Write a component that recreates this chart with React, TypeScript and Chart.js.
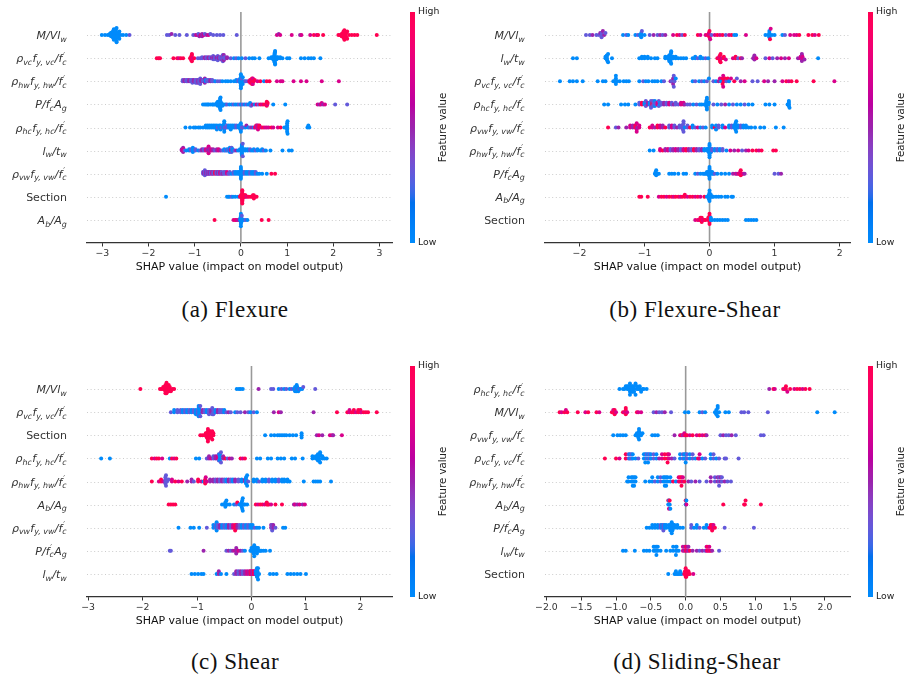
import { useEffect, useRef } from "react";
import { Chart, registerables } from "chart.js";

Chart.register(...registerables);

const FONT = '"DejaVu Sans", sans-serif';
Chart.defaults.font.family = FONT;

// Tokens: <shap value><feature level code>[count]
// feature level codes: b = low, v, p, m, r = high
const LEVELS: Record<string, number> = { b: 0, v: 0.3, p: 0.5, m: 0.72, r: 1 };

// ---------- (a) Flexure ----------
const flexureFeatures = [
  "$M/Vl_w$",
  "$ρ_{vc}f_{y, vc}/f^′_c$",
  "$ρ_{hw}f_{y, hw}/f^′_c$",
  "$P/f^′_cA_g$",
  "$ρ_{hc}f_{y, hc}/f^′_c$",
  "$l_w/t_w$",
  "$ρ_{vw}f_{y, vw}/f^′_c$",
  "Section",
  "$A_b/A_g$",
];
const flexureShap = [
  "-3.01b -2.94b -2.88b -2.84b2 -2.81b2 -2.79b3 -2.77b3 -2.75b4 -2.73b5 -2.71b5 -2.69b3 -2.67b3 -2.65b2 -2.63b2 -2.6b -2.55b -2.48b -2.41v -1.6v -1.55v -1.5p -1.42v -1.33v -1.17v -1.03v -0.98p -0.95m -0.92v -0.9p -0.87m -0.84p2 -0.8m -0.78v -0.74p -0.7m -0.66v -0.6v -0.52v -0.45v -0.38v -0.09v 0.78m 0.82p 0.85m 1.1m 1.28p 1.31m 1.5m 1.58r 1.64m 1.67r 1.78r 2.11r 2.15r 2.18r2 2.2r3 2.22r3 2.24r3 2.26r3 2.28r2 2.3r2 2.34r 2.4r 2.46r 2.52r 2.94r",
  "-1.82r -1.78r -1.75r -1.46r -1.38r -1.34m -1.3r -1.25r -1.1r -1.08r2 -1.07r3 -1.06r3 -1.04m -1.01r -0.93v -0.88v -0.84v2 -0.78p2 -0.74v2 -0.7p2 -0.66v2 -0.62p2 -0.6v2 -0.58p2 -0.56v3 -0.52p2 -0.5v3 -0.48p2 -0.45v2 -0.42v3 -0.4p2 -0.39v2 -0.38v4 -0.37p2 -0.35v2 -0.3p2 -0.22v -0.15b -0.1v -0.05b 0.02b 0.1v 0.18b 0.25b 0.3b 0.4b 0.6b 0.66b2 0.7b3 0.72b5 0.73b5 0.74b4 0.77b3 0.8b2 0.85b2 0.9b 1.0b 1.05b 1.3b 1.38b 1.46b 1.52b 1.58b 1.72b",
  "-1.26v2 -1.22p2 -1.18v2 -1.15v2 -1.12p2 -1.08v2 -1.05v3 -1.02p2 -0.98v3 -0.95v3 -0.92p3 -0.9v3 -0.88v2 -0.86p2 -0.82v2 -0.8v2 -0.78p2 -0.76b2 -0.73v2 -0.7v2 -0.66p2 -0.62v2 -0.58v -0.55b -0.5v -0.45v -0.4b -0.33b -0.28b -0.22b -0.15b -0.1b2 -0.05v2 -0.02b -0.01b3 0b7 0.01b3 0.02v 0.04b2 0.07b 0.1v 0.14v 0.18m 0.2r2 0.22m2 0.24r3 0.25r3 0.26m2 0.28r 0.3r 0.36m 0.42r 0.5b 0.56r 0.62r 0.78m 0.86m 0.9m 1.14m 1.3m 1.42m 1.75m 2.12m",
  "-0.82b -0.78b -0.75b -0.72b -0.7b -0.66b -0.62b -0.6b -0.57b -0.54b -0.52b2 -0.5b2 -0.48b2 -0.46b4 -0.45b4 -0.44b2 -0.42b2 -0.4b -0.37b -0.33b -0.3v -0.25b -0.2b -0.16v -0.12b -0.08b -0.04v 0b 0.04v 0.08b 0.12v 0.16b 0.2b2 0.22v 0.26p 0.3b 0.34m 0.38v 0.42r 0.46m 0.5r 0.54r 0.56r3 0.57m 0.58r 0.7b 0.96b 1.66m 1.7p 1.73m 1.75m 1.78p 1.82m 2.04v 2.3v",
  "-1.2b -1.1b -1.02b -0.98b -0.92b -0.88b -0.82b -0.76b2 -0.72b2 -0.68b2 -0.64b2 -0.6b2 -0.56b2 -0.52b3 -0.5v -0.47b2 -0.44b3 -0.42v -0.38b2 -0.36b4 -0.35v -0.3v2 -0.26b2 -0.22b3 -0.18b2 -0.14b2 -0.1v2 -0.05b2 -0.01b3 0b5 0.02v 0.06v 0.1b 0.12p 0.16b 0.2v 0.24p 0.28b 0.3m 0.33r2 0.35p2 0.37m3 0.4r2 0.44m 0.48r 0.52m 0.56m 0.6m 0.66r 0.7m 0.8m 0.86r 0.94b 0.98b 1.0b5 1.01b2 1.44b 1.46b 1.48b",
  "-1.28p2 -1.26m2 -1.25p2 -1.24m2 -1.22v -1.18b -1.12b2 -1.08v2 -1.04b4 -1.02b2 -0.98v2 -0.92b -0.88v -0.84p2 -0.8v2 -0.76m2 -0.72p2 -0.7m4 -0.68p2 -0.64m2 -0.6p2 -0.56v -0.52p2 -0.48m2 -0.44p -0.4v -0.36b2 -0.33v -0.3b2 -0.27v2 -0.24b4 -0.22p2 -0.2v2 -0.18b2 -0.14v -0.1p -0.06b -0.02b2 0.02b8 0.04v2 0.06b2 0.1b2 0.15b2 0.2v2 0.24b 0.28b2 0.32v 0.36b2 0.42b 0.46b2 0.5v 0.54b 0.64b 0.9b 1.04b 1.1b",
  "-0.82v2 -0.8p2 -0.78v4 -0.76p2 -0.74v2 -0.72p2 -0.7v2 -0.68p2 -0.65v2 -0.62m2 -0.6v2 -0.56r2 -0.53v2 -0.5p2 -0.48v2 -0.45m2 -0.42v2 -0.4p -0.37v2 -0.34v2 -0.3m2 -0.27v -0.24v2 -0.2b -0.16v2 -0.12b2 -0.08b2 -0.04b2 -0.02b2 -0.01b2 0b8 0.02b2 0.04b2 0.08v2 0.12b2 0.16b2 0.2v2 0.24b2 0.28b2 0.32v2 0.36b 0.4b 0.46b 0.56b 0.66r 0.74r",
  "-1.62b -0.3b -0.27b -0.24b -0.2v -0.17b -0.12b -0.06b -0.02r 0r2 0.02r3 0.03r6 0.04r3 0.06r2 0.08r2 0.1r2 0.13m 0.16r 0.2r 0.24r 0.26r2 0.28r3 0.3r 0.34r",
  "-0.57r -0.16m -0.12r -0.1m -0.06p -0.04m -0.02b -0.01b2 0b7 0.01b3 0.02v 0.04b 0.06b 0.1v 0.14b 0.45r 0.6r",
];
const flexureTicks = [-3, -2, -1, 0, 1, 2, 3];

// ---------- (b) Flexure-Shear ----------
const flexShearFeatures = [
  "$M/Vl_w$",
  "$l_w/t_w$",
  "$ρ_{vc}f_{y, vc}/f^′_c$",
  "$ρ_{hc}f_{y, hc}/f^′_c$",
  "$ρ_{vw}f_{y, vw}/f^′_c$",
  "$ρ_{hw}f_{y, hw}/f^′_c$",
  "$P/f^′_cA_g$",
  "$A_b/A_g$",
  "Section",
];
const flexShearShap = [
  "-1.9v -1.84v -1.8p -1.74v -1.7v -1.68p -1.66v3 -1.64p -1.62p -1.6v -1.33b -1.28v -1.25b -1.14b -1.1v -1.07b -1.05b3 -1.04v -1.0b -0.92v -0.86p -0.8v -0.76p -0.72v -0.68p -0.56m -0.5r -0.46m -0.42v -0.38r -0.18r -0.14m -0.06m -0.03r -0.01m2 0r2 0.01m 0.03v 0.08m 0.12r 0.16m 0.2r 0.25v 0.3m 0.34r 0.38b 0.41b 0.56m 0.86b 0.9b 0.92b4 0.93r 0.94m 0.96b 1.0b 1.12b 1.16v 1.24m 1.3m 1.34m 1.38r 1.52r 1.58r 1.62m 1.68r",
  "-2.1b -2.04b -1.6b2 -1.58b4 -1.57b -1.56b2 -1.5b -1.08b -1.04b2 -1.0b2 -0.95b2 -0.9b -0.84b -0.8b -0.68b2 -0.64b2 -0.62b3 -0.6b7 -0.59b3 -0.56b2 -0.52b2 -0.48b -0.44b -0.4b -0.36b -0.26b -0.22b2 -0.18v -0.14b2 -0.1b -0.06v -0.02b 0.12r 0.15m2 0.16r3 0.17r2 0.19m 0.22r2 0.25m 0.36m 0.4r2 0.44v 0.48r 0.5p 0.67p 0.69p4 0.72m 0.86v 0.92m 0.97v 1.04p 1.1m 1.16p 1.22m 1.36p 1.4m2 1.42p4 1.43m2 1.46p 1.67b",
  "-2.3b -2.15b -2.1b -2.04b -1.95b -1.72b -1.64b -1.6b -1.48b -1.46b -1.44b3 -1.42b -1.38b -1.32b -1.28b -1.24b -1.08b -1.02v -0.98b -0.94b -0.88b -0.84b -0.8b -0.74b -0.7v -0.6p -0.58v -0.56p2 -0.55v2 -0.54v -0.52b -0.26b -0.22v -0.16b -0.12v -0.08b -0.04v -0.01b 0.06v 0.1b 0.14p 0.16m 0.18b 0.2r2 0.21m2 0.22r 0.24r 0.26v 0.28r 0.3b 0.33m 0.38r 0.42v 0.48p 0.54m 0.66v 0.74v 0.84m 0.9p 1.0p 1.12m 1.18r 1.22m 1.26r 1.34r 1.6r 1.92m",
  "-1.62b -1.56b -1.36b -1.3b -1.25b -1.14b -1.08v2 -1.04r2 -1.0b2 -0.98v2 -0.95p2 -0.92b2 -0.9v3 -0.88r2 -0.87v2 -0.86v2 -0.84b2 -0.82v2 -0.8m2 -0.78v2 -0.76b2 -0.74v2 -0.7p2 -0.66v2 -0.62m2 -0.58v2 -0.55p -0.52v2 -0.48v -0.44m2 -0.4m2 -0.38p -0.34v -0.3v -0.25b -0.2v -0.15b -0.12b -0.08b -0.06b -0.05b3 -0.04b4 -0.02b -0.01b 0.06v 0.12b 0.18v 0.24p 0.3b 0.36v 0.42b 0.48b 0.54v 0.6b 0.66b 0.86b 0.92b 1.0b 1.2b 1.22b4 1.23b",
  "-1.56r -1.44v -1.4p -1.28p -1.22m2 -1.18p2 -1.14r2 -1.12m3 -1.11p -1.08m2 -0.92r -0.88m2 -0.84p -0.8r2 -0.76m2 -0.72p2 -0.68r -0.62v2 -0.58m2 -0.54v2 -0.5p -0.46v2 -0.42v2 -0.41v3 -0.4v3 -0.38b -0.34v2 -0.3r -0.26b2 -0.22v -0.18m -0.14b -0.1v -0.06b 0.04b2 0.08r 0.1b2 0.14v2 0.2b2 0.24m 0.3b2 0.34v2 0.38b2 0.4b4 0.41b2 0.44b2 0.48v2 0.52b2 0.56b2 0.6b 0.64b 0.7b 0.78b 0.84b 1.02b 1.14b",
  "-0.92b -0.86b -0.76m2 -0.72r -0.68p2 -0.64m2 -0.6v2 -0.56p2 -0.52m2 -0.48p2 -0.44v2 -0.4m2 -0.36r2 -0.32p2 -0.28v2 -0.24r2 -0.2p2 -0.16v2 -0.12p2 -0.08b2 -0.04b2 -0.02b2 -0.01b3 0b6 0.01b 0.02b2 0.04v2 0.08b2 0.12v2 0.16b2 0.2v2 0.26b 0.32m 0.38p 0.44m 0.5v 0.56p 0.6m 0.66r 0.72r 0.76m 0.8r 0.98r 1.02r",
  "-0.84b -0.83b2 -0.82b2 -0.8b -0.78b -0.62b -0.58b -0.54b -0.48b -0.4b -0.36b -0.22b -0.18v -0.14b -0.1b -0.08b -0.06b -0.04b2 -0.02b2 -0.01b3 0b5 0.02b2 0.04b2 0.06b 0.08v 0.12b 0.18b 0.24b 0.3b 0.36p 0.4m 0.42p 0.44m 0.46r 0.47m2 0.48r2 0.5r 0.52m 0.54p 1.0v 1.06v 1.1p",
  "-1.08r -1.05r -0.95r -0.78m -0.74r -0.7r -0.66m -0.62r -0.58r -0.55m -0.52r -0.48r -0.45m -0.42r -0.38r2 -0.34m -0.3r -0.26r -0.22m -0.18r -0.14m -0.08r -0.04b -0.02b -0.01b2 0b6 0.02b2 0.04b 0.06b 0.1b 0.14b 0.18b 0.24b 0.28b 0.34b 0.36b",
  "-0.22m -0.18r -0.16m -0.14r2 -0.12r3 -0.1m -0.08r -0.06r -0.02r2 0r6 0.01r2 0.02b2 0.04b 0.08b 0.12b 0.16b 0.2b 0.24b 0.28b 0.56b 0.6b 0.64b 0.68b 0.72b",
];
const flexShearTicks = [-2, -1, 0, 1, 2];

// ---------- (c) Shear ----------
const shearFeatures = [
  "$M/Vl_w$",
  "$ρ_{vc}f_{y, vc}/f^′_c$",
  "Section",
  "$ρ_{hc}f_{y, hc}/f^′_c$",
  "$ρ_{hw}f_{y, hw}/f^′_c$",
  "$A_b/A_g$",
  "$ρ_{vw}f_{y, vw}/f^′_c$",
  "$P/f^′_cA_g$",
  "$l_w/t_w$",
];
const shearShap = [
  "-2.04r -1.68r -1.65r -1.62r2 -1.6r2 -1.58r3 -1.57r3 -1.56r3 -1.54r2 -1.52r2 -1.5r2 -1.48r -1.45r -1.42r -0.27b -0.23b -0.2b -0.16b 0.13p 0.36v 0.4v 0.5b 0.55v 0.6b 0.64v 0.7b 0.74v 0.78b 0.8b2 0.82v 0.83b3 0.84b2 0.86b 0.88v 0.9b 0.93b 0.95v 1.17v",
  "-1.48v -1.42b2 -1.36v2 -1.3v2 -1.26b2 -1.22v2 -1.18b2 -1.14v2 -1.1b2 -1.06v2 -1.02b3 -0.98v3 -0.97b3 -0.96b4 -0.94v2 -0.9p2 -0.86v2 -0.82b2 -0.78v3 -0.74p2 -0.72v2 -0.7v3 -0.66b2 -0.62p2 -0.58v2 -0.54v2 -0.5b2 -0.46v -0.42p -0.38v -0.3b -0.26v -0.2v -0.12p -0.06v -0.02b 0.04v 0.1b 0.41p 0.5m 0.54p 1.14p 1.57r 1.76r 1.8m2 1.84r 1.88r2 1.92m 1.96r2 2.0r2 2.02m 2.06r 2.1r 2.14r 2.3r",
  "-0.94r -0.9r -0.86r -0.84r2 -0.82r3 -0.8r4 -0.78r4 -0.76r4 -0.74r3 -0.72r2 -0.7r2 0.25b 0.36b 0.42b 0.48b 0.52b 0.56b 0.6b 0.64b 0.7b 0.76b 0.82b 0.92b3 1.2p 1.24m 1.3p 1.44m 1.48m 1.5p 1.66m",
  "-2.76b -2.6b -1.83r -1.78m -1.74r -1.7r -1.64m -1.5b -1.46r -1.42m -1.38r -1.02b -0.96b -0.82v -0.78p2 -0.74m -0.7v2 -0.66p2 -0.62m2 -0.6v2 -0.58b4 -0.56v2 -0.52p2 -0.48r -0.44v -0.4m -0.36p -0.2r -0.16m -0.12r 0.1b 0.16b 0.3b 0.36b 0.48b 0.54b 0.6b 0.74b 0.8b 0.94b 1.12b2 1.18b2 1.22b4 1.24b3 1.26b3 1.3b2 1.34b 1.38b",
  "-1.83r -1.7m -1.66r2 -1.62m -1.58v4 -1.57v2 -1.55v -1.52v -1.46m2 -1.4r -1.34m -1.28r -1.18p -1.1p2 -1.06v -0.98r2 -0.92m -0.88b -0.85r3 -0.84m -0.82m -0.76p2 -0.7p2 -0.66v2 -0.62p2 -0.58v2 -0.54p2 -0.5v2 -0.46b2 -0.42p2 -0.38v2 -0.34b2 -0.3p2 -0.24v2 -0.18b2 -0.12p2 -0.1b4 -0.08b2 -0.06v 0.04b2 0.1b2 0.14v 0.2b2 0.26b2 0.32v2 0.38b2 0.44b2 0.5v2 0.56b2 0.6b2 0.66b2 0.7b 0.96b 1.14b 1.18b 1.22b 1.26b 1.46b",
  "-1.52r -1.48r -1.44r -1.4r -0.54b -0.5b -0.48b3 -0.46b -0.44b -0.4b -0.32b -0.28v -0.26r -0.22b -0.2b -0.18b3 -0.17b2 -0.16b2 -0.14b -0.12b -0.08b 0.08r 0.12m 0.16r 0.2r 0.24m 0.28r2 0.3r 0.32r 0.36m 0.44r 0.56r 0.78p 0.8m 0.84p 0.88m 0.94p 0.98m",
  "-1.34b -1.12b -1.06b -0.96b -0.82v -0.7b2 -0.66v2 -0.64b4 -0.62v2 -0.58p2 -0.54b2 -0.5v2 -0.46b2 -0.42p2 -0.38v2 -0.34m2 -0.3r3 -0.28r2 -0.26p2 -0.22v2 -0.18b2 -0.14v2 -0.1b2 -0.06v2 -0.02b2 0.02b2 0.06v 0.1b 0.14b 0.22b 0.36p2 0.38v3 0.4p2 0.44v 0.58b 0.62b",
  "-1.5v -1.48v -0.88p -0.46v -0.42p -0.38v -0.34p -0.3m -0.28p3 -0.26p -0.24m -0.2p -0.16v -0.12b -0.02b 0b2 0.02b2 0.04b3 0.05b2 0.06b 0.08b2 0.1b3 0.12b2 0.14b 0.16b 0.18b 0.22b 0.26b 0.34b",
  "-1.1b -1.04b -0.98b -0.92b -0.88b -0.64b -0.6p2 -0.56b -0.46b -0.32v -0.28p2 -0.24v2 -0.2p2 -0.16v2 -0.12p2 -0.08m2 -0.04p2 -0.02r2 0m2 0.02p2 0.04r2 0.06m2 0.08b2 0.1b4 0.11b3 0.12b2 0.14b 0.34b 0.4b 0.46b 0.66b 0.72b 0.78b 0.84b 0.9b 1.0b",
];
const shearTicks = [-3, -2, -1, 0, 1, 2];

// ---------- (d) Sliding-Shear ----------
const slidingFeatures = [
  "$ρ_{hc}f_{y, hc}/f^′_c$",
  "$M/Vl_w$",
  "$ρ_{vw}f_{y, vw}/f^′_c$",
  "$ρ_{vc}f_{y, vc}/f^′_c$",
  "$ρ_{hw}f_{y, hw}/f^′_c$",
  "$A_b/A_g$",
  "$P/f^′_cA_g$",
  "$l_w/t_w$",
  "Section",
];
const slidingShap = [
  "-0.95b -0.9b -0.88b -0.86b -0.84b2 -0.82b2 -0.8b3 -0.78b3 -0.76b3 -0.74b3 -0.72b2 -0.7b2 -0.68b -0.66b2 -0.64b -0.62b -0.6b -0.56b 1.2p 1.26r 1.28m 1.4r 1.42m 1.44r2 1.46m 1.5r 1.56m 1.6r 1.64r 1.68m 1.72r 1.78r",
  "-1.81r -1.78m -1.74r -1.72m -1.7r -1.55r -1.44m -1.4r -1.28r -1.24m -1.06r -1.04m -1.02r3 -1.0m -0.9r -0.88m -0.86r3 -0.84m -0.7r -0.68m -0.64m -0.46v -0.42p -0.38v -0.34v -0.3p -0.21v -0.01b 0.04b 0.2b 0.24v 0.28b 0.42b 0.44b3 0.46b3 0.48b 0.57b 0.62b 0.8v 0.84v 0.9v 1.18v 1.89b 2.14b",
  "-1.04b -0.98b -0.94b -0.9b -0.86b -0.72b -0.7b2 -0.68b3 -0.67b3 -0.66b2 -0.64b -0.62b -0.48b -0.44b -0.4b -0.16p -0.08m -0.06r -0.04p -0.02m2 0r 0.02r 0.06m 0.1r 0.16m 0.2r 0.24m 0.28r 0.3p 0.5v 0.54p 0.58v 0.62v 0.66p 0.72v 1.08v 1.12v",
  "-1.16r -1.0r -0.95m -0.86r2 -0.82v2 -0.8b2 -0.78v2 -0.76b2 -0.72b -0.68v -0.6b2 -0.58b3 -0.56v2 -0.54b3 -0.52v2 -0.5b2 -0.46v2 -0.42b2 -0.38p -0.34m2 -0.3r2 -0.26r3 -0.24m2 -0.2p -0.16v -0.08b2 -0.04v2 -0.02b2 0b3 0.02v2 0.06b2 0.1v2 0.14b 0.18r 0.2m2 0.24b 0.28v 0.36b2 0.4v2 0.44b 0.48v 0.56v 0.58v 0.76v",
  "-0.84b -0.82b2 -0.78b2 -0.76b3 -0.74b3 -0.72b2 -0.58b -0.52b -0.48b2 -0.44v -0.4b2 -0.36v2 -0.32b2 -0.3b3 -0.28b3 -0.26b2 -0.22b2 -0.18r -0.14b -0.1m2 -0.08r2 -0.06r3 -0.04m2 -0.02r 0.04p 0.08v 0.14p 0.2v 0.3v 0.36p2 0.42v2 0.46p2 0.48v3 0.5p2 0.52v2 0.56p 0.6v 0.65v",
  "-0.25b -0.25r -0.24b2 -0.24m -0.23b -0.23r -0.22b 0b 0r 0.01m 0.01b 0.54r 0.84r 0.85r 0.86r 1.08r",
  "-0.56b -0.52b -0.48b2 -0.44b2 -0.4b2 -0.36v2 -0.34b2 -0.32v3 -0.3b2 -0.28b2 -0.24b2 -0.22b3 -0.2b5 -0.19b3 -0.18b2 -0.16b2 -0.12b2 -0.08b -0.04b 0.08v2 0.12b 0.16b2 0.2v 0.26b 0.3b2 0.34m 0.36r2 0.38r3 0.4m2 0.42r 0.56v 0.98v",
  "-0.9b -0.86b -0.73b -0.6b -0.56b -0.52b -0.46b2 -0.44b2 -0.42b3 -0.4b2 -0.36b -0.28b -0.22b -0.18b2 -0.14b3 -0.13b2 -0.1b -0.04m2 -0.02p2 0r2 0.02m2 0.04p2 0.06r 0.1p 0.16p 0.2v 0.24p 0.28v 0.3m2 0.32r2 0.34m2 0.36r 0.38p 0.48v",
  "-0.25b -0.16b -0.14b2 -0.12b -0.1b -0.08b2 -0.06b -0.02r -0.01r2 0r4 0.01r3 0.02r2 0.04r2 0.06r 0.11m",
];
const slidingTicks = [-2, -1.5, -1, -0.5, 0, 0.5, 1, 1.5, 2];

const X_TITLE = "SHAP value (impact on model output)";
const CBAR_LABEL = "Feature value";
const CBAR_HIGH = "High";
const CBAR_LOW = "Low";

// ---------- layout ----------
const PANEL_W = 453;
const PANEL_H = 282;
const PLOT_TOP = 12;
const PLOT_BOTTOM = 243;
const AXIS_H = 31;
const ROW_HEIGHT = 0.4;
const NBINS = 100;
const LABEL_SIZE = 11;

type PanelSpec = {
  id: string;
  features: string[];
  shap: string[];
  ticks: number[];
  decimals: number;
  range: [number, number];
  left: number;
  top: number;
  plotLeft: number;
  plotRight: number;
  caption: string;
  captionX: number;
  captionY: number;
};

const panels: PanelSpec[] = [
  { id: "a", features: flexureFeatures, shap: flexureShap, ticks: flexureTicks, decimals: 0, range: [-3.33, 3.27], left: 0, top: 0, plotLeft: 87, plotRight: 392, caption: "(a) Flexure", captionX: 235, captionY: 310 },
  { id: "b", features: flexShearFeatures, shap: flexShearShap, ticks: flexShearTicks, decimals: 0, range: [-2.53, 2.16], left: 453, top: 0, plotLeft: 92, plotRight: 397, caption: "(b) Flexure-Shear", captionX: 695, captionY: 310 },
  { id: "c", features: shearFeatures, shap: shearShap, ticks: shearTicks, decimals: 0, range: [-3.02, 2.58], left: 0, top: 354, plotLeft: 87, plotRight: 392, caption: "(c) Shear", captionX: 235, captionY: 662 },
  { id: "d", features: slidingFeatures, shap: slidingShap, ticks: slidingTicks, decimals: 1, range: [-2.02, 2.36], left: 453, top: 354, plotLeft: 92, plotRight: 397, caption: "(d) Sliding-Shear", captionX: 697, captionY: 662 },
];

// ---------- colour map (blue -> red through LCh) ----------
function labToRgb(L: number, a: number, b: number): [number, number, number] {
  const fy = (L + 16) / 116;
  const fx = fy + a / 500;
  const fz = fy - b / 200;
  const inv = (t: number) => (t > 0.2068966 ? t * t * t : (t - 16 / 116) / 7.787);
  const X = 0.95047 * inv(fx);
  const Y = inv(fy);
  const Z = 1.08883 * inv(fz);
  const r = 3.2404542 * X - 1.5371385 * Y - 0.4985314 * Z;
  const g = -0.969266 * X + 1.8760108 * Y + 0.041556 * Z;
  const bl = 0.0556434 * X - 0.2040259 * Y + 1.0572252 * Z;
  const gam = (v: number) => (v > 0.0031308 ? 1.055 * Math.pow(v, 1 / 2.4) - 0.055 : 12.92 * v);
  return [r, g, bl].map((v) => Math.round(255 * Math.min(1, Math.max(0, gam(v))))) as [number, number, number];
}

function featureColor(t: number): string {
  const idx = t * 99;
  const L = idx <= 49 ? 54 - (14 * idx) / 49 : idx >= 50 ? 40 + (14 * (idx - 50)) / 49 : 40;
  const C = 70 + 20 * t;
  const h = 4.6588 + (0.35470565 + 2 * Math.PI - 4.6588) * t;
  const [r, g, b] = labToRgb(L, C * Math.cos(h), C * Math.sin(h));
  return `rgb(${r},${g},${b})`;
}

// ---------- data helpers ----------
function parseRow(row: string) {
  const pts: { x: number; f: number }[] = [];
  for (const tok of row.trim().split(/\s+/)) {
    const m = tok.match(/^(-?\d*\.?\d+)([bvpmr])(\d*)$/);
    if (!m) continue;
    const n = m[3] ? parseInt(m[3], 10) : 1;
    for (let k = 0; k < n; k++) pts.push({ x: parseFloat(m[1]), f: LEVELS[m[2]] });
  }
  return pts;
}

// beeswarm layering: points in the same x-bin are stacked alternately above/below the row
function swarmOffsets(xs: number[]) {
  const lo = Math.min(...xs);
  const hi = Math.max(...xs);
  const q = xs.map((v) => Math.round((NBINS * (v - lo)) / (hi - lo + 1e-8)));
  const order = xs.map((_, i) => i).sort((a, b) => q[a] - q[b] || a - b);
  const ys = new Array(xs.length).fill(0);
  let layer = 0;
  let last = -1;
  for (const i of order) {
    if (q[i] !== last) layer = 0;
    ys[i] = Math.ceil(layer / 2) * ((layer % 2) * 2 - 1);
    layer++;
    last = q[i];
  }
  const top = Math.max(...ys) + 1;
  return ys.map((v) => (v * 0.9 * ROW_HEIGHT) / top);
}

// ---------- math-style feature labels ----------
type Seg = { text: string; kind: "base" | "sub" | "sup" };

function parseLabel(s: string): { math: boolean; segs: Seg[] } {
  if (!s.startsWith("$")) return { math: false, segs: [{ text: s, kind: "base" }] };
  const body = s.slice(1, -1);
  const segs: Seg[] = [];
  let buf = "";
  for (let i = 0; i < body.length; i++) {
    const ch = body[i];
    if (ch === "_" || ch === "^") {
      if (buf) {
        segs.push({ text: buf, kind: "base" });
        buf = "";
      }
      let grp = "";
      if (body[i + 1] === "{") {
        const j = body.indexOf("}", i + 2);
        grp = body.slice(i + 2, j);
        i = j;
      } else {
        grp = body[i + 1];
        i++;
      }
      segs.push({ text: grp, kind: ch === "_" ? "sub" : "sup" });
    } else buf += ch;
  }
  if (buf) segs.push({ text: buf, kind: "base" });
  return { math: true, segs };
}

function drawLabel(ctx: CanvasRenderingContext2D, label: string, right: number, cy: number) {
  const { math, segs } = parseLabel(label);
  const style = math ? "italic " : "";
  const fBase = `${style}${LABEL_SIZE}px ${FONT}`;
  const fSmall = `${style}${(LABEL_SIZE * 0.72).toFixed(2)}px ${FONT}`;
  const SUB_DY = 2.6;
  const SUP_DY = -4.6;
  const items: { text: string; x: number; font: string; dy: number }[] = [];
  let x = 0;
  for (let i = 0; i < segs.length; i++) {
    const s = segs[i];
    if (s.kind === "base") {
      ctx.font = fBase;
      items.push({ text: s.text, x, font: fBase, dy: 0 });
      x += ctx.measureText(s.text).width;
    } else {
      ctx.font = fSmall;
      const w = ctx.measureText(s.text).width;
      const nxt = segs[i + 1];
      if (s.kind === "sup" && nxt && nxt.kind === "sub") {
        const w2 = ctx.measureText(nxt.text).width;
        items.push({ text: s.text, x: x + 0.8, font: fSmall, dy: SUP_DY });
        items.push({ text: nxt.text, x, font: fSmall, dy: SUB_DY });
        x += Math.max(w + 0.8, w2) + 0.3;
        i++;
      } else {
        items.push({ text: s.text, x, font: fSmall, dy: s.kind === "sub" ? SUB_DY : SUP_DY });
        x += w + 0.3;
      }
    }
  }
  const x0 = right - x;
  ctx.fillStyle = "#333333";
  ctx.textAlign = "left";
  ctx.textBaseline = "alphabetic";
  for (const it of items) {
    ctx.font = it.font;
    ctx.fillText(it.text, x0 + it.x, cy + 4 + it.dy);
  }
}

function fmtTick(v: number, decimals: number) {
  const s = Math.abs(v).toFixed(decimals);
  return v < 0 ? "\u2212" + s : s;
}

function makeDecor(spec: PanelSpec) {
  const n = spec.features.length;
  return {
    id: "decor-" + spec.id,
    beforeDatasetsDraw(chart: Chart) {
      const { ctx, chartArea: a } = chart;
      const xs = chart.scales.x;
      const ys = chart.scales.y;
      ctx.save();
      // dotted row guides
      ctx.strokeStyle = "#cccccc";
      ctx.lineWidth = 1;
      ctx.setLineDash([1, 2.6]);
      for (let r = 0; r < n; r++) {
        const py = Math.round(ys.getPixelForValue(r)) + 0.5;
        ctx.beginPath();
        ctx.moveTo(a.left, py);
        ctx.lineTo(a.right, py);
        ctx.stroke();
      }
      ctx.setLineDash([]);
      // zero line
      const zx = xs.getPixelForValue(0);
      ctx.strokeStyle = "#999999";
      ctx.lineWidth = 1.6;
      ctx.beginPath();
      ctx.moveTo(zx, a.top);
      ctx.lineTo(zx, a.bottom);
      ctx.stroke();
      ctx.restore();
    },
    afterDraw(chart: Chart) {
      const { ctx, chartArea: a } = chart;
      const ys = chart.scales.y;
      ctx.save();
      spec.features.forEach((f, i) => {
        drawLabel(ctx, f, a.left - 20, ys.getPixelForValue(n - 1 - i));
      });
      // colour bar
      const cbx = a.right + 18;
      const cbw = 5;
      const grad = ctx.createLinearGradient(0, a.bottom, 0, a.top);
      for (let i = 0; i <= 40; i++) grad.addColorStop(i / 40, featureColor(i / 40));
      ctx.fillStyle = grad;
      ctx.fillRect(cbx, a.top, cbw, a.bottom - a.top);
      ctx.fillStyle = "#222222";
      ctx.font = `9.3px ${FONT}`;
      ctx.textAlign = "left";
      ctx.textBaseline = "middle";
      ctx.fillText(CBAR_HIGH, cbx + cbw + 3, a.top);
      ctx.fillText(CBAR_LOW, cbx + cbw + 3, a.bottom);
      ctx.translate(cbx + cbw + 28, (a.top + a.bottom) / 2);
      ctx.rotate(-Math.PI / 2);
      ctx.textAlign = "center";
      ctx.font = `10.2px ${FONT}`;
      ctx.fillText(CBAR_LABEL, 0, 0);
      ctx.restore();
    },
  };
}

function buildChart(canvas: HTMLCanvasElement, spec: PanelSpec) {
  const n = spec.features.length;
  const points: { x: number; y: number }[] = [];
  const colors: string[] = [];
  for (let r = n - 1; r >= 0; r--) {
    const pts = parseRow(spec.shap[r]);
    const offs = swarmOffsets(pts.map((p) => p.x));
    const pos = n - 1 - r;
    pts.forEach((p, k) => {
      points.push({ x: p.x, y: pos + offs[k] });
      colors.push(featureColor(p.f));
    });
  }
  return new Chart(canvas, {
    type: "scatter",
    data: {
      datasets: [
        {
          data: points,
          pointBackgroundColor: colors,
          pointBorderWidth: 0,
          pointRadius: 2,
          pointHoverRadius: 2,
        },
      ],
    },
    options: {
      animation: false,
      responsive: false,
      devicePixelRatio: 1,
      events: [],
      layout: {
        padding: {
          left: spec.plotLeft,
          right: PANEL_W - spec.plotRight,
          top: PLOT_TOP,
          bottom: PANEL_H - PLOT_BOTTOM - AXIS_H,
        },
      },
      plugins: { legend: { display: false }, tooltip: { enabled: false } },
      scales: {
        x: {
          type: "linear",
          min: spec.range[0],
          max: spec.range[1],
          afterBuildTicks: (s: any) => {
            s.ticks = spec.ticks.map((v) => ({ value: v }));
          },
          afterFit: (s: any) => {
            s.height = AXIS_H;
          },
          grid: { display: true, drawOnChartArea: false, drawTicks: true, tickLength: 3.5, tickWidth: 1, tickColor: "#333333" },
          border: { display: true, color: "#333333", width: 1.2 },
          ticks: {
            color: "#333333",
            font: { size: 9.3, family: FONT },
            padding: 1.5,
            maxRotation: 0,
            autoSkip: false,
            callback: (v: any) => fmtTick(Number(v), spec.decimals),
          },
          title: { display: true, text: X_TITLE, color: "#111111", font: { size: 11, family: FONT }, padding: { top: 0, bottom: 0 } },
        },
        y: { type: "linear", display: false, min: -1, max: n },
      },
    },
    plugins: [makeDecor(spec) as any],
  } as any);
}

function Panel({ spec }: { spec: PanelSpec }) {
  const ref = useRef<HTMLCanvasElement>(null);
  useEffect(() => {
    if (!ref.current) return;
    const chart = buildChart(ref.current, spec);
    return () => chart.destroy();
  }, [spec]);
  return (
    <canvas
      ref={ref}
      width={PANEL_W}
      height={PANEL_H}
      style={{ position: "absolute", left: spec.left, top: spec.top, width: PANEL_W, height: PANEL_H }}
    />
  );
}

function Caption({ spec }: { spec: PanelSpec }) {
  return (
    <div
      style={{
        position: "absolute",
        left: spec.captionX - 150,
        top: spec.captionY - 13,
        width: 300,
        height: 26,
        lineHeight: "26px",
        textAlign: "center",
        fontFamily: '"Liberation Serif", serif',
        fontSize: 23,
        letterSpacing: 0.5,
        color: "#111111",
        whiteSpace: "nowrap",
      }}
    >
      {spec.caption}
    </div>
  );
}

export default function App() {
  return (
    <div style={{ position: "absolute", left: 0, top: 0, width: 906, height: 678, background: "#ffffff", overflow: "hidden" }}>
      {panels.map((p) => (
        <Panel key={p.id} spec={p} />
      ))}
      {panels.map((p) => (
        <Caption key={"cap-" + p.id} spec={p} />
      ))}
    </div>
  );
}
